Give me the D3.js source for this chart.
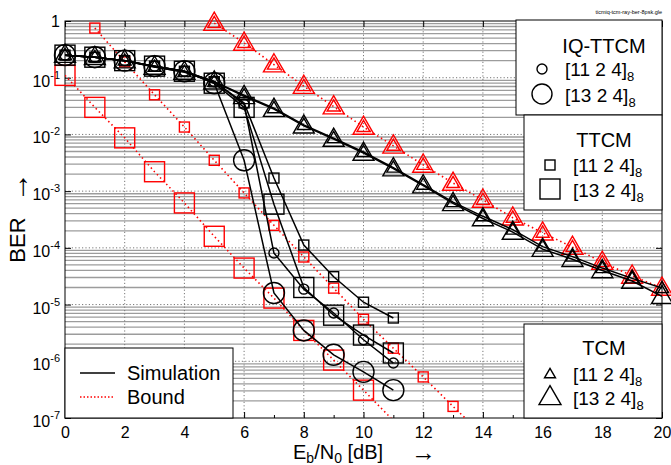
<!DOCTYPE html>
<html lang="en">
<head>
<meta charset="UTF-8">
<title>BER ticmiq-tcm-ray-ber-8psk</title>
<script src="https://cdn.jsdelivr.net/npm/d3@7"></script>
<style>
  body { margin: 0; background: #fff; }
  text { font-family: "Liberation Sans", Arial, Helvetica, sans-serif; fill: #000; }
</style>
</head>
<body>
<script>
// Eb/N0 in dB
const snrCoded = [0, 1, 2, 3, 4, 5, 6, 7, 8, 9, 10, 11];
const snrTcm = [0, 1, 2, 3, 4, 5, 6, 7, 8, 9, 10, 11, 12, 13, 14, 15, 16, 17, 18, 19, 20];

// simulation results
const iqttcm11 = [0.25, 0.23, 0.20, 0.16, 0.13, 0.085, 0.034, 8.1e-5, 1.87e-5, 7.1e-6, 2.4e-6, 9.3e-7];
const iqttcm13 = [0.25, 0.23, 0.20, 0.16, 0.13, 0.080, 3.5e-3, 1.6e-5, 3.5e-6, 1.3e-6, 6.5e-7, 3.1e-7];
const ttcm11 = [0.25, 0.23, 0.20, 0.16, 0.13, 0.085, 0.036, 1.7e-3, 1.12e-4, 3.1e-5, 1.1e-5, 5.8e-6];
const ttcm13 = [0.25, 0.23, 0.20, 0.16, 0.13, 0.080, 0.030, 5.9e-4, 2.0e-5, 6.5e-6, 2.9e-6, 1.4e-6];
const tcm11 = [0.25, 0.23, 0.20, 0.155, 0.126, 0.085, 0.049, 0.029, 0.0147, 0.0086, 0.0049, 0.0026,
  0.0013, 6.4e-4, 3.6e-4, 2.1e-4, 1.05e-4, 7.0e-5, 4.4e-5, 2.9e-5, 1.95e-5];
const tcm13 = [0.25, 0.23, 0.20, 0.155, 0.126, 0.085, 0.047, 0.028, 0.0142, 0.0083, 0.0047, 0.0025,
  0.00125, 6.1e-4, 3.3e-4, 1.9e-4, 9.5e-5, 6.3e-5, 4.0e-5, 2.6e-5, 1.4e-5];

// bounds
const snrBoundTtcm11 = [1, 2, 3, 4, 5, 6, 7, 8, 9, 10, 11, 12, 13, 14];
const boundTtcm11 = [0.75, 0.19, 0.05, 0.0135, 3.5e-3, 9.3e-4, 2.5e-4, 6.9e-5, 1.95e-5, 5.5e-6, 1.7e-6, 5.3e-7, 1.6e-7, 5e-8];
const snrBoundTtcm13 = [0, 1, 2, 3, 4, 5, 6, 7, 8, 9, 10, 11];
const boundTtcm13 = [0.11, 0.03, 8.7e-3, 2.2e-3, 6.2e-4, 1.6e-4, 4.4e-5, 1.3e-5, 3.5e-6, 1.05e-6, 3.1e-7, 9e-8];
const snrBoundTcm = [5, 6, 7, 8, 9, 10, 11, 12, 13, 14, 15, 16, 17, 18, 19, 20];
const boundTcm = [0.92, 0.41, 0.17, 0.071, 0.031, 0.0135, 0.0063, 0.0029, 1.39e-3, 7.0e-4, 3.4e-4,
  1.85e-4, 1.03e-4, 5.6e-5, 3.2e-5, 1.96e-5];

// axis ticks
const xMajorTicks = [0, 2, 4, 6, 8, 10, 12, 14, 16, 18, 20];
const xMinorTicks = [1, 3, 5, 7, 9, 11, 13, 15, 17, 19];
const yDecades = [0, -1, -2, -3, -4, -5, -6, -7];

const w = 671, h = 465;
const plotL = 65, plotR = 662, plotT = 21, plotB = 418;

const x = d3.scaleLinear().domain([0, 20]).range([plotL, plotR]);
const y = d3.scaleLog().domain([1e-7, 1]).range([plotB, plotT]);

const svg = d3.select("body").append("svg")
  .attr("width", w).attr("height", h);

svg.append("defs").append("clipPath").attr("id", "plot")
  .append("rect").attr("x", plotL).attr("y", plotT)
  .attr("width", plotR - plotL).attr("height", plotB - plotT);

// grid
const minorY = [];
yDecades.slice(1).forEach(k => { for (let m = 2; m <= 9; m++) minorY.push(m * Math.pow(10, k)); });

const grid = svg.append("g");
grid.selectAll(".ymin").data(minorY).enter().append("line")
  .attr("x1", plotL).attr("x2", plotR)
  .attr("y1", d => y(d)).attr("y2", d => y(d))
  .attr("stroke", "#9c9c9c").attr("stroke-width", 1.3);
grid.selectAll(".ymaj").data(yDecades.slice(1, -1)).enter().append("line")
  .attr("x1", plotL).attr("x2", plotR)
  .attr("y1", d => y(Math.pow(10, d))).attr("y2", d => y(Math.pow(10, d)))
  .attr("stroke", "#777").attr("stroke-width", 1).attr("stroke-dasharray", "1.2,2.2");
grid.selectAll(".xmaj").data(xMajorTicks.slice(1, -1)).enter().append("line")
  .attr("x1", d => x(d)).attr("x2", d => x(d))
  .attr("y1", plotT).attr("y2", plotB)
  .attr("stroke", "#777").attr("stroke-width", 1).attr("stroke-dasharray", "1.2,2.2");

// axes
const xAxis = svg.append("g").attr("transform", "translate(0," + plotB + ")")
  .call(d3.axisBottom(x).tickValues(xMajorTicks).tickSize(-6).tickPadding(9).tickFormat(d3.format("d")));
xAxis.select(".domain").remove();
xAxis.selectAll("text").attr("font-size", 16).attr("font-family", "Liberation Sans, Arial, sans-serif");
const xMinor = svg.append("g").attr("transform", "translate(0," + plotB + ")")
  .call(d3.axisBottom(x).tickValues(xMinorTicks).tickSize(-3).tickFormat(""));
xMinor.select(".domain").remove();
const xTop = svg.append("g").attr("transform", "translate(0," + plotT + ")")
  .call(d3.axisTop(x).tickValues(xMajorTicks).tickSize(-6).tickFormat(""));
xTop.select(".domain").remove();

const yAxis = svg.append("g").attr("transform", "translate(" + plotL + ",0)")
  .call(d3.axisLeft(y).tickValues(yDecades.map(k => Math.pow(10, k))).tickSize(-6).tickFormat(""));
yAxis.select(".domain").remove();
const yRight = svg.append("g").attr("transform", "translate(" + plotR + ",0)")
  .call(d3.axisRight(y).tickValues(yDecades.map(k => Math.pow(10, k))).tickSize(-6).tickFormat(""));
yRight.select(".domain").remove();

// y tick labels with superscripts
yDecades.forEach(k => {
  const yy = y(Math.pow(10, k));
  if (k === 0) {
    svg.append("text").attr("x", 60).attr("y", yy + 6).attr("text-anchor", "end")
      .attr("font-size", 16).text("1");
  } else {
    const t = svg.append("text").attr("x", 60).attr("y", yy + 9).attr("text-anchor", "end")
      .attr("font-size", 16);
    t.append("tspan").text("10");
    t.append("tspan").attr("dy", -8).attr("font-size", 11).text(String(k));
  }
});

svg.append("rect").attr("x", plotL).attr("y", plotT)
  .attr("width", plotR - plotL).attr("height", plotB - plotT)
  .attr("fill", "none").attr("stroke", "#000").attr("stroke-width", 1);

// markers
function addMarker(g, type, size, color) {
  if (type === "circle") {
    g.append("circle").attr("r", size / 2);
  } else if (type === "square") {
    g.append("rect").attr("x", -size / 2).attr("y", -size / 2).attr("width", size).attr("height", size);
  } else {
    const hh = size * 0.866;
    g.append("path").attr("d", `M0,${-hh * 0.6}L${size / 2},${hh * 0.4}L${-size / 2},${hh * 0.4}Z`);
  }
  g.selectAll("*").attr("fill", "none").attr("stroke", color).attr("stroke-width", 1.4);
}

const line = d3.line().x(d => x(d[0])).y(d => y(d[1]));
const plotG = svg.append("g");

function drawSeries(xs, ys, color, dashed, markers) {
  const pts = xs.map((v, i) => [v, ys[i]]);
  plotG.append("path").datum(pts)
    .attr("clip-path", "url(#plot)")
    .attr("d", line).attr("fill", "none").attr("stroke", color)
    .attr("stroke-width", dashed ? 1.6 : 1.5)
    .attr("stroke-dasharray", dashed ? "1.5,3" : null);
  pts.filter(p => p[1] >= 1e-7 && p[1] <= 1.05).forEach(p => {
    markers.forEach(m => {
      const g = plotG.append("g").attr("transform", `translate(${x(p[0])},${y(p[1])})`);
      addMarker(g, m[0], m[1], color);
    });
  });
}

const red = "#ff0000";
drawSeries(snrBoundTtcm13, boundTtcm13, red, true, [["square", 20]]);
drawSeries(snrBoundTtcm11, boundTtcm11, red, true, [["square", 10]]);
drawSeries(snrBoundTcm, boundTcm, red, true, [["triangle", 21], ["triangle", 13]]);

drawSeries(snrTcm, tcm11, "#000", false, [["triangle", 13]]);
drawSeries(snrTcm, tcm13, "#000", false, [["triangle", 21]]);
drawSeries(snrCoded, ttcm11, "#000", false, [["square", 10]]);
drawSeries(snrCoded, ttcm13, "#000", false, [["square", 20]]);
drawSeries(snrCoded, iqttcm11, "#000", false, [["circle", 10]]);
drawSeries(snrCoded, iqttcm13, "#000", false, [["circle", 21]]);

// legends
function box(x0, y0, x1, y1) {
  svg.append("rect").attr("x", x0).attr("y", y0).attr("width", x1 - x0).attr("height", y1 - y0)
    .attr("fill", "#fff").attr("stroke", "#000").attr("stroke-width", 1);
}
function codeLabel(xx, yy, code) {
  const t = svg.append("text").attr("x", xx).attr("y", yy).attr("font-size", 19);
  t.append("tspan").text(code);
  t.append("tspan").attr("dy", 5).attr("font-size", 13).text("8");
}
function codeLegend(x0, y0, y1, title, type, titleY, mx, tx, row1, row2) {
  box(x0, y0, 662, y1);
  svg.append("text").attr("x", 604).attr("y", titleY).attr("text-anchor", "middle")
    .attr("font-size", 20).text(title);
  addMarker(svg.append("g").attr("transform", `translate(${mx},${row1 - 7})`), type, type === "triangle" ? 11 : 10, "#000");
  addMarker(svg.append("g").attr("transform", `translate(${mx},${row2 - 8})`), type, type === "triangle" ? 22 : 20, "#000");
  codeLabel(tx, row1, "[11 2 4]");
  codeLabel(tx, row2, "[13 2 4]");
}
codeLegend(516, 20, 115, "IQ-TTCM", "circle", 53, 542, 565, 76, 102);
codeLegend(524, 115, 210, "TTCM", "square", 147, 550, 573, 172, 197);
codeLegend(524, 324, 418, "TCM", "triangle", 355, 550, 573, 381, 405);

box(65, 348, 233, 418);
svg.append("line").attr("x1", 80).attr("x2", 115).attr("y1", 373).attr("y2", 373)
  .attr("stroke", "#000").attr("stroke-width", 1.3);
svg.append("text").attr("x", 127).attr("y", 380).attr("font-size", 20).text("Simulation");
svg.append("line").attr("x1", 80).attr("x2", 115).attr("y1", 397).attr("y2", 397)
  .attr("stroke", red).attr("stroke-width", 1.3).attr("stroke-dasharray", "1.5,2");
svg.append("text").attr("x", 127).attr("y", 404).attr("font-size", 20).text("Bound");

// axis titles
svg.append("text").attr("transform", "translate(25,240) rotate(-90)")
  .attr("text-anchor", "middle").attr("font-size", 22).text("BER");
svg.append("text").attr("transform", "translate(28,187) rotate(-90)")
  .attr("text-anchor", "middle").attr("font-size", 30).text("→");

const xl = svg.append("text").attr("x", 293).attr("y", 459).attr("font-size", 20);
xl.append("tspan").text("E");
xl.append("tspan").attr("dy", 4).attr("font-size", 14).text("b");
xl.append("tspan").attr("dy", -4).text("/N");
xl.append("tspan").attr("dy", 4).attr("font-size", 14).text("0");
xl.append("tspan").attr("dy", -4).text(" [dB]");
svg.append("text").attr("x", 411).attr("y", 461).attr("font-size", 25).text("→");

svg.append("text").attr("x", 662).attr("y", 14).attr("text-anchor", "end")
  .attr("font-size", 5.5).attr("fill", "#333").text("ticmiq-tcm-ray-ber-8psk.gle");
</script>
</body>
</html>
